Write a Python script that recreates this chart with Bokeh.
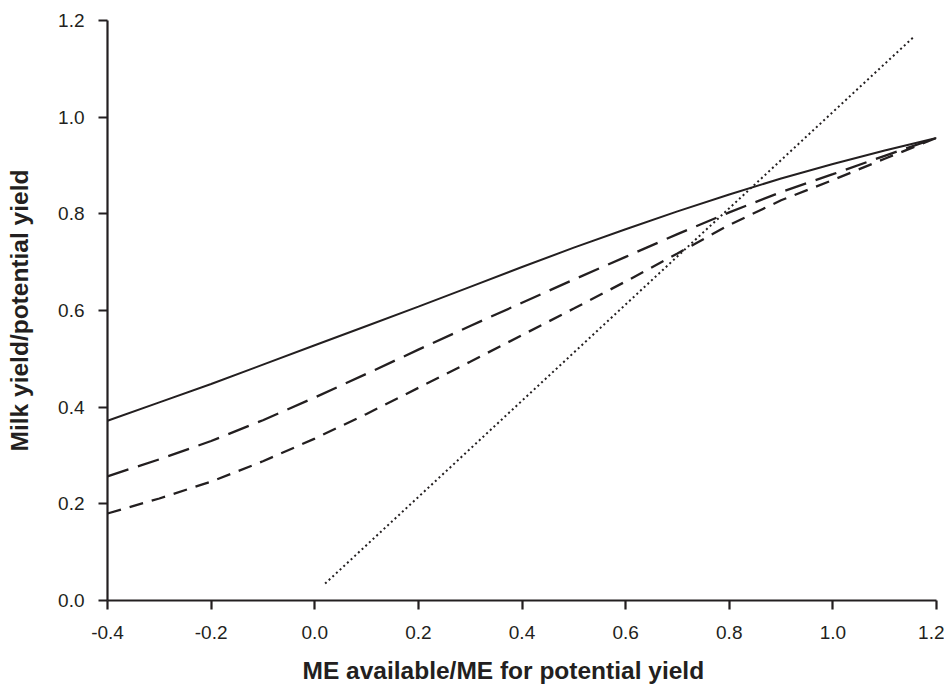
from bokeh.plotting import figure
from bokeh.models import Range1d, FixedTicker, Title
from bokeh.embed import file_html
from bokeh.resources import INLINE

# data
x_curve = [-0.4, -0.3, -0.2, -0.1, 0.0, 0.1, 0.2, 0.3, 0.4, 0.5, 0.6, 0.7, 0.8, 0.9, 1.0, 1.1, 1.2]
solid_y = [0.372, 0.410, 0.448, 0.488, 0.528, 0.568, 0.608, 0.649, 0.690, 0.730, 0.768,
           0.805, 0.840, 0.873, 0.903, 0.931, 0.957]
long_dash_y = [0.257, 0.292, 0.330, 0.373, 0.420, 0.469, 0.519, 0.568, 0.616, 0.664, 0.711,
               0.758, 0.803, 0.845, 0.882, 0.920, 0.957]
short_dash_y = [0.180, 0.211, 0.246, 0.288, 0.335, 0.386, 0.440, 0.494, 0.549, 0.604, 0.660,
                0.718, 0.777, 0.828, 0.870, 0.914, 0.957]
dotted_x = [0.02, 1.155]
dotted_y = [0.035, 1.165]
x_ticks = [-0.4, -0.2, 0.0, 0.2, 0.4, 0.6, 0.8, 1.0, 1.2]
y_ticks = [0.0, 0.2, 0.4, 0.6, 0.8, 1.0, 1.2]
x_title = "ME available/ME for potential yield"
y_title = "Milk yield/potential yield"

INK = "#231f20"
FONT = "Liberation Sans"

p = figure(width=944, height=700, output_backend="svg", toolbar_location=None,
           x_range=Range1d(-0.4, 1.2), y_range=Range1d(0, 1.2),
           min_border_left=107, min_border_right=8, min_border_top=20, min_border_bottom=100)
p.outline_line_color = None
p.grid.visible = False
p.background_fill_color = "white"

p.line(x_curve, solid_y, line_color=INK, line_width=2)
p.line(x_curve, long_dash_y, line_color=INK, line_width=2.3, line_dash="22 10")
p.line(x_curve, short_dash_y, line_color=INK, line_width=2.3, line_dash="14 9")
p.line(dotted_x, dotted_y, line_color=INK, line_width=2, line_dash="2 3")

for ax in (p.xaxis[0], p.yaxis[0]):
    ax.axis_line_color = INK
    ax.axis_line_width = 2.2
    ax.major_tick_line_color = INK
    ax.major_tick_line_width = 2.2
    ax.major_tick_in = 0
    ax.major_tick_out = 9
    ax.minor_tick_line_color = None
    ax.major_label_text_font = FONT
    ax.major_label_text_font_size = "19px"
    ax.major_label_text_color = INK
    ax.axis_label_text_font = FONT
    ax.axis_label_text_font_size = "24.5px"
    ax.axis_label_text_font_style = "bold"
    ax.axis_label_text_color = INK

p.xaxis.ticker = FixedTicker(ticks=x_ticks)
p.yaxis.ticker = FixedTicker(ticks=y_ticks)
p.xaxis.major_label_overrides = {t: f"{t:.1f}" for t in x_ticks}
p.yaxis.major_label_overrides = {t: f"{t:.1f}" for t in y_ticks}
p.xaxis.major_label_standoff = 16
p.yaxis.major_label_standoff = 14
p.yaxis.axis_label = y_title
p.yaxis.axis_label_standoff = 22

p.add_layout(Title(text=x_title, align="left", offset=195, standoff=30,
                   vertical_align="top",
                   text_font=FONT, text_font_size="24.5px", text_font_style="bold",
                   text_color=INK), "below")

open("out.html", "w").write(file_html(p, INLINE))
